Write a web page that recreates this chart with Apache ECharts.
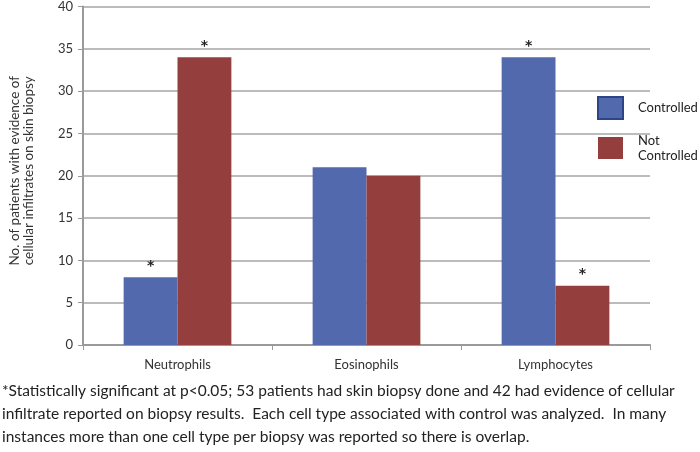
<!DOCTYPE html>
<html>
<head>
<meta charset="utf-8">
<script src="https://cdn.jsdelivr.net/npm/echarts@6/dist/echarts.min.js"></script>
<style>
  html, body { margin: 0; padding: 0; background: #fff; }
  #chart { width: 700px; height: 452px; }
</style>
</head>
<body>
<div id="chart"></div>
<script>
const categories = ['Neutrophils', 'Eosinophils', 'Lymphocytes'];
const controlled = [8, 21, 34];
const notControlled = [34, 20, 7];
// '*' marks p<0.05
const sigControlled = [true, false, true];
const sigNotControlled = [true, false, true];
const footnote = [
  '*Statistically significant at p<0.05; 53 patients had skin biopsy done and 42 had evidence of cellular',
  'infiltrate reported on biopsy results.  Each cell type associated with control was analyzed.  In many',
  'instances more than one cell type per biopsy was reported so there is overlap.'
];

const initChart = function () {
  const myChart = echarts.init(document.getElementById('chart'));

  const starLabel = function (flags) {
    return {
      show: true,
      position: 'top',
      distance: 4,
      fontSize: 14,
      fontWeight: 'bold',
      color: '#222',
      fontFamily: 'DejaVu Sans',
      formatter: function (p) { return flags[p.dataIndex] ? '*' : ''; }
    };
  };

  let option = {
    animation: false,
    textStyle: { fontFamily: 'Lato' },
    grid: { left: 81, right: 50, top: 5, bottom: 107 },
    legend: {
      orient: 'vertical',
      left: 597,
      top: 96,
      width: 103,
      padding: 0,
      itemWidth: 25,
      itemHeight: 22,
      itemGap: 13,
      icon: 'rect',
      textStyle: { fontSize: 13, color: '#222', lineHeight: 15, fontFamily: 'Lato', padding: [0, 0, 0, 10], overflow: 'none' },
      formatter: function (name) { return name.replace(' ', '\n'); },
      data: [
        { name: 'Controlled', itemStyle: { borderColor: '#2c4584', borderWidth: 2 } },
        { name: 'Not Controlled' }
      ]
    },
    xAxis: {
      type: 'category',
      data: categories,
      axisLine: { lineStyle: { color: '#9a9a9a', width: 2 } },
      axisTick: { show: true, length: 5, lineStyle: { color: '#9a9a9a' } },
      axisLabel: { fontSize: 13, color: '#333', margin: 13 }
    },
    yAxis: {
      type: 'value',
      min: 0,
      max: 40,
      interval: 5,
      name: 'No. of patients with evidence of\ncellular infiltrates on skin biopsy',
      nameLocation: 'middle',
      nameGap: 47,
      nameTextStyle: { fontSize: 13.5, color: '#333', lineHeight: 14, padding: [0, 0, 0, 10] },
      axisLine: { show: true, lineStyle: { color: '#9a9a9a', width: 2 } },
      axisTick: { show: true, length: 5, lineStyle: { color: '#9a9a9a' } },
      axisLabel: { fontSize: 13, color: '#333', margin: 10 },
      splitLine: { lineStyle: { color: '#a6a6a6', width: 1.5 } }
    },
    series: [
      {
        name: 'Controlled',
        type: 'bar',
        data: controlled,
        barGap: '0%',
        barCategoryGap: '43%',
        itemStyle: { color: '#5269ad' },
        label: starLabel(sigControlled)
      },
      {
        name: 'Not Controlled',
        type: 'bar',
        data: notControlled,
        itemStyle: { color: '#943f3d' },
        label: starLabel(sigNotControlled)
      }
    ],
    graphic: footnote.map(function (line, i) {
      return {
        type: 'text',
        left: 2,
        top: 383 + i * 23,
        style: { text: line, fontSize: 15.5, fill: '#222', fontFamily: 'Lato' }
      };
    })
  };

  myChart.setOption(option);
};

window.addEventListener('load', function () {
  initChart();
});
</script>
</body>
</html>
